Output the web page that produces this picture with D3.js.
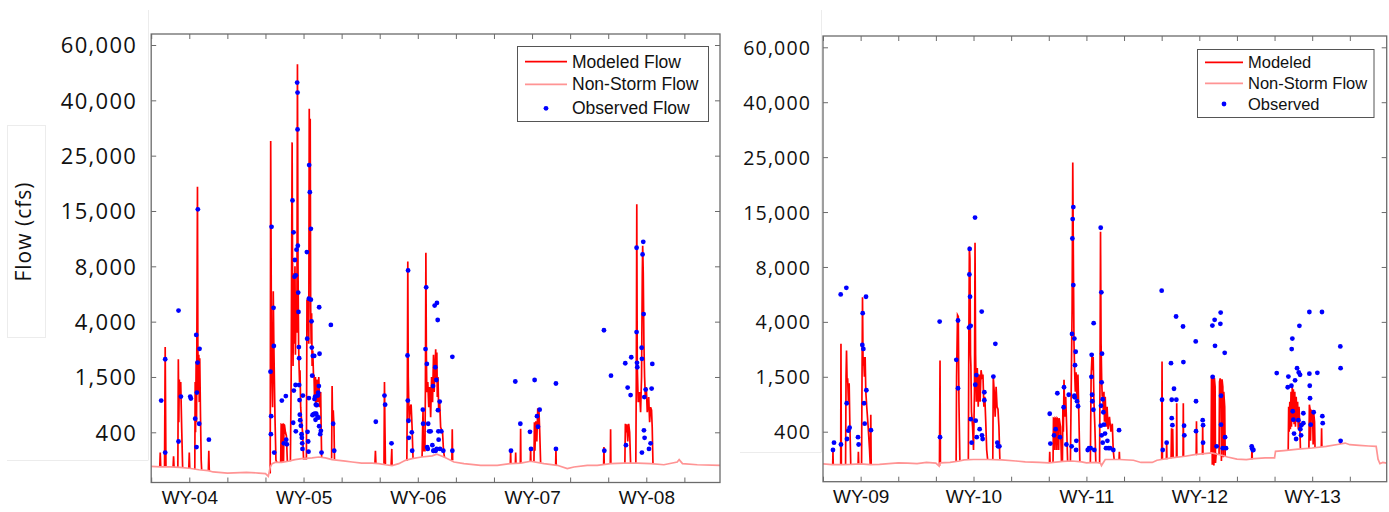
<!DOCTYPE html>
<html><head><meta charset="utf-8">
<script src="https://cdn.jsdelivr.net/npm/d3@7"></script>
<style>html,body{margin:0;padding:0;background:#fff;} svg{display:block;}</style>
</head><body>
<svg id="chart" width="1389" height="512"></svg>
<script>
// ---------------- DATA ----------------
// x = months since Sep 1 of the panel's first year (ticks every 4 months, WY labels at Jan 1)
const yTickValues = [400, 1500, 4000, 8000, 15000, 25000, 40000, 60000];
const yFloorValue = 100;
const tickMonths = [0, 4, 8, 12, 16, 20, 24, 28, 32, 36, 40, 44, 48, 52, 56];
const labelMonths = [4, 16, 28, 40, 52];
const xLabelsLeft = ["WY-04", "WY-05", "WY-06", "WY-07", "WY-08"];
const xLabelsRight = ["WY-09", "WY-10", "WY-11", "WY-12", "WY-13"];
const legendLeft = ["Modeled Flow", "Non-Storm Flow", "Observed Flow"];
const legendRight = ["Modeled", "Non-Storm Flow", "Observed"];

const nonStormLeft = [[0,215],[1.0,212],[2.0,212],[3.0,210],[4.0,205],[5.0,197],[6.0,192],[6.5,185],[8.0,179],[10.0,183],[11.3,179],[12.0,176],[12.3,161],[12.5,212],[12.7,230],[13.0,237],[13.7,237],[14.4,243],[15.1,252],[15.8,257],[16.9,261],[17.6,266],[18.3,261],[19.0,252],[19.7,248],[20.4,244],[21.1,239],[22.1,233],[23.2,233],[23.9,230],[24.6,224],[25.3,219],[26.0,230],[26.7,248],[27.4,257],[28.4,266],[29.5,272],[30.0,281],[30.75,266],[31.45,248],[31.8,239],[32.85,230],[34.6,221],[36.35,221],[37.75,230],[38.8,233],[39.85,243],[41.25,230],[42.65,221],[43.7,203],[44.4,212],[45.8,221],[46.85,221],[48.25,230],[49.65,233],[51.05,233],[52.45,230],[53.85,224],[55.25,239],[55.45,252],[55.8,230],[57.35,224],[59.74,221]];

const modeledLeft = [
[0.9,212],[0.95,290],[1.0,212],null,
[1.40,212],[1.47,2850],[1.55,212],null,
[2.3,212],[2.35,270],[2.4,212],null,
[2.8,212],[2.85,2300],[2.9,600],[2.95,1450],[3.05,1100],[3.1,1400],[3.2,500],[3.3,210],null,
[3.95,205],[4.0,290],[4.05,205],null,
[4.58,200],[4.62,1400],[4.66,400],[4.72,2200],[4.76,600],[4.86,19400],[4.9,3000],[4.95,1200],[5.0,2500],[5.05,1000],[5.1,2350],[5.18,700],[5.25,250],[5.3,197],null,
[6.0,192],[6.05,300],[6.1,190],null,
[12.5,176],[12.55,29000],[12.62,4000],[12.68,1500],[12.75,900],[12.82,6200],[12.88,3000],[12.95,1300],[13.0,700],[13.1,250],[13.2,237],null,
[13.6,237],[13.65,550],[13.7,540],[13.75,240],[13.8,550],[13.85,540],[13.9,240],[13.95,550],[14.0,540],[14.1,400],[14.2,380],[14.3,240],null,
[14.62,243],[14.7,1500],[14.8,28600],[14.86,5000],[14.9,2000],[14.95,7500],[15.0,3000],[15.1,8000],[15.15,2500],[15.22,6000],[15.3,3500],[15.36,53000],[15.42,8000],[15.48,3000],[15.53,2000],[15.58,1400],[15.63,1800],[15.7,900],[15.8,600],[15.9,400],[16.0,257],[16.3,257],
[16.36,5600],[16.42,4500],[16.48,5800],[16.55,3000],[16.6,37700],[16.65,7000],[16.7,35000],[16.75,5000],[16.8,3000],[16.85,4600],[16.9,2000],[16.97,2700],[17.05,1500],[17.1,1600],[17.15,1100],[17.25,1500],[17.3,900],[17.4,1450],[17.5,1000],[17.6,1500],[17.7,900],[17.8,1200],[17.85,500],[17.9,266],null,
[18.95,258],[19.0,1320],[19.05,600],[19.12,840],[19.2,500],[19.25,252],null,
[23.5,233],[23.55,300],[23.6,233],null,
[24.45,230],[24.5,1400],[24.55,500],[24.6,228],null,
[25.2,222],[25.27,310],[25.3,220],null,
[26.85,245],[26.9,1200],[26.95,8600],[27.0,1500],[27.05,1000],[27.1,600],[27.2,900],[27.3,950],[27.4,500],[27.5,257],null,
[28.45,266],[28.5,400],[28.55,840],[28.6,300],[28.75,300],[28.8,1300],[28.85,9700],[28.9,2500],[28.95,1200],[29.05,1400],[29.15,900],[29.25,1300],[29.35,700],[29.45,1500],[29.55,1000],[29.65,2500],[29.72,1200],[29.8,1800],[29.88,2750],[29.95,1400],[30.0,2600],[30.05,1100],[30.12,1500],[30.2,800],[30.3,1000],[30.4,500],[30.5,450],[30.6,400],[30.7,300],[30.8,266],null,
[31.58,248],[31.62,460],[31.66,248],null,
[37.72,230],[37.75,300],[37.78,230],null,
[38.25,231],[38.28,290],[38.31,231],null,
[38.77,233],[38.8,470],[38.83,233],null,
[39.82,243],[39.85,310],[39.88,243],null,
[40.2,240],[40.25,600],[40.3,300],[40.4,620],[40.5,350],[40.6,880],[40.65,500],[40.72,870],[40.8,450],[40.9,235],null,
[42.48,221],[42.51,310],[42.54,221],null,
[47.52,226],[47.55,320],[47.58,226],null,
[48.22,230],[48.25,460],[48.28,230],null,
[49.75,233],[49.8,570],[49.85,400],[49.95,560],[50.05,350],[50.15,570],[50.25,400],[50.35,233],null,
[50.9,233],[50.95,1500],[51.0,16200],[51.05,2000],[51.15,1000],[51.3,1200],[51.4,800],[51.5,1500],[51.58,7500],[51.62,10600],[51.68,7500],[51.75,3000],[51.82,1500],[51.9,1100],[52.0,1300],[52.1,800],[52.25,1100],[52.35,600],[52.45,900],[52.55,840],[52.62,500],[52.7,230]
];

const observedLeft = [[1.05,1030],[1.47,2300],[1.47,290],[2.87,4800],[2.87,350],[3.12,1110],[4.10,1110],[4.17,1070],[4.62,670],[4.73,3400],[4.76,320],[4.80,1190],[4.87,2150],[4.90,15300],[5.04,570],[5.08,2770],[6.06,360],
[12.53,1740],[12.57,390],[12.60,720],[12.64,13000],[12.85,5000],[12.88,2900],[12.92,290],
[13.72,1030],[13.93,340],[14.14,1120],[14.18,360],[14.25,335],
[14.84,16900],[14.91,590],[14.95,12300],[14.98,1230],[15.05,7250],[15.09,8800],[15.16,1340],[15.19,7350],[15.19,420],[15.26,10100],[15.33,46400],[15.37,42800],[15.37,32100],[15.40,10600],[15.44,6100],[15.47,4700],[15.51,2850],[15.54,2350],[15.54,1340],[15.58,1040],[15.61,750],[15.65,640],[15.72,530],[15.79,390],[15.82,370],[15.86,340],[15.89,310],[15.93,1130],
[16.35,9800],[16.38,3230],[16.42,410],[16.49,350],[16.52,295],[16.56,1080],[16.56,5660],[16.59,23300],[16.66,18400],[16.77,5590],[16.77,12740],[16.84,4020],[16.87,2830],[16.91,1560],[16.94,740],[16.98,2450],[17.05,760],[17.12,2450],[17.15,1060],[17.19,770],[17.22,1110],[17.26,650],[17.29,950],[17.33,770],[17.40,940],[17.47,710],[17.50,1130],[17.54,1190],[17.57,690],[17.61,1320],[17.64,520],[17.64,5040],[17.68,2550],[17.75,390],[17.82,430],[17.89,290],
[18.87,3850],[19.11,570],[19.22,300],
[23.59,610],[24.50,1130],[24.57,950],[25.24,340],
[26.92,2470],[26.95,1030],[26.98,7700],[27.02,630],[27.06,370],[27.37,400],[27.41,300],
[28.53,850],[28.56,570],[28.81,2760],[28.88,6480],[28.95,2090],[28.98,320],[29.05,310],[29.09,570],[29.19,420],
[29.35,420],[29.53,330],[29.60,1320],[29.63,300],[29.70,300],[29.77,5160],[29.84,1940],[29.88,300],[29.95,1440],[29.98,310],[30.01,5350],[30.09,4120],[30.12,840],[30.16,420],[30.19,360],[30.30,1010],[30.33,310],[30.47,420],[30.68,300],
[31.63,2410],[31.63,300],
[37.79,300],[38.24,1410],[38.77,570],[39.78,410],[39.89,310],[40.27,1440],[40.52,720],[40.62,510],[40.80,850],[42.51,1370],[42.51,310],
[47.55,3610],[47.59,300],[48.29,1560],[49.79,2120],[49.86,330],[50.04,1290],[50.35,1140],[50.42,2390],[50.98,3530],[50.98,10350],[51.02,2140],[51.05,1940],[51.51,2820],[51.54,2320],[51.61,9500],[51.68,11100],[51.72,4550],[51.75,440],[51.79,1100],[51.82,370],[51.93,1250],[51.54,290],[52.28,310],[52.45,340],[52.56,1270],[52.63,2090]];

const nonStormRight = [[0,224],[1.0,220],[2.0,220],[3.0,221],[4.0,224],[5.0,220],[6.0,222],[7.0,226],[8.0,230],[9.0,228],[10.0,226],[11.0,232],[12.0,228],[12.35,212],[12.45,230],[13.5,232],[14.5,240],[15.0,246],[16.0,248],[17.5,248],[19.0,246],[20.5,240],[21.5,235],[23.0,232],[24.0,230],[25.5,238],[26.5,240],[27.5,235],[28.0,230],[29.0,232],[29.5,228],[29.6,215],[30.0,248],[31.5,248],[33.0,244],[33.8,232],[35.0,232],[35.5,244],[36.0,248],[37.0,257],[38.5,266],[39.5,275],[40.5,280],[41.3,284],[42.5,270],[43.0,262],[44.0,250],[45.0,248],[45.8,253],[47.0,257],[48.0,257],[48.1,293],[49.0,297],[50.5,305],[52.0,311],[53.5,320],[55.0,333],[55.5,338],[56.0,329],[57.0,325],[58.0,322],[58.8,320],[59.0,250],[59.2,225],[59.5,232],[59.92,228]];

const modeledRight = [
[1.03,220],[1.06,290],[1.09,220],null,
[1.88,220],[1.91,3000],[1.95,220],null,
[2.4,220],[2.45,1500],[2.5,2700],[2.56,1400],[2.62,1470],[2.7,1000],[2.78,1370],[2.85,600],[2.95,220],null,
[3.73,221],[3.76,290],[3.8,221],null,
[4.1,224],[4.15,1500],[4.2,5800],[4.26,2000],[4.32,2400],[4.4,1500],[4.48,2400],[4.55,1200],[4.65,900],[4.8,500],[4.95,300],[5.02,220],[5.08,740],[5.12,220],null,
[12.38,212],[12.44,2240],[12.48,230],null,
[14.15,240],[14.2,1500],[14.3,4500],[14.38,4400],[14.45,1000],[14.55,242],null,
[15.45,246],[15.5,3000],[15.56,10600],[15.62,9000],[15.68,2500],[15.72,2000],[15.78,800],[15.9,500],[16.0,300],[16.1,1200],[16.16,11100],[16.22,2500],[16.3,1000],[16.4,1900],[16.5,900],[16.6,1600],[16.7,1000],[16.8,1800],[16.9,1500],[17.0,1600],[17.1,900],[17.2,1100],[17.3,600],[17.4,300],[17.5,248],null,
[18.05,248],[18.1,1500],[18.2,1200],[18.3,700],[18.4,1300],[18.5,900],[18.6,850],[18.7,500],[18.8,247],null,
[24.07,230],[24.1,290],[24.14,230],null,
[24.45,232],[24.5,670],[24.6,660],[24.65,300],[24.7,670],[24.8,650],[24.85,300],[24.9,670],[25.0,650],[25.05,300],[25.1,670],[25.25,500],[25.35,236],null,
[25.45,236],[25.5,900],[25.55,400],[25.62,1440],[25.7,700],[25.8,1100],[25.9,500],[26.0,240],null,
[26.3,240],[26.4,1500],[26.48,5000],[26.55,24000],[26.62,8000],[26.68,3000],[26.75,1740],[26.82,1200],[26.9,1700],[27.0,1000],[27.1,1600],[27.2,700],[27.3,238],null,
[28.42,230],[28.5,1500],[28.6,2500],[28.65,1800],[28.72,2400],[28.8,1000],[28.9,500],[29.0,232],null,
[29.4,230],[29.45,2000],[29.5,12500],[29.56,3000],[29.62,1470],[29.68,1100],[29.74,1170],[29.8,800],[29.86,1200],[29.92,600],[30.0,1100],[30.1,500],[30.2,900],[30.3,450],[30.45,700],[30.6,400],[30.75,560],[30.85,300],[30.95,248],null,
[31.47,248],[31.5,290],[31.53,248],null,
[36.0,248],[36.04,2200],[36.08,248],null,
[36.5,250],[36.53,340],[36.56,250],null,
[37.0,255],[37.05,470],[37.1,260],[37.17,460],[37.22,258],null,
[37.57,258],[37.6,970],[37.63,258],null,
[38.27,263],[38.3,970],[38.33,263],null,
[39.67,272],[39.7,610],[39.73,272],null,
[40.33,276],[40.36,540],[40.39,276],null,
[41.25,284],[41.3,1500],[41.35,1450],[41.38,220],[41.42,1500],[41.5,1400],[41.55,215],[41.6,1480],[41.68,1300],[41.72,230],[41.8,284],null,
[42.1,278],[42.15,1400],[42.22,1470],[42.3,1350],[42.35,240],[42.42,1450],[42.5,1300],[42.55,260],[42.6,1200],[42.7,900],[42.75,265],null,
[45.57,250],[45.6,330],[45.63,250],null,
[49.45,297],[49.5,900],[49.55,400],[49.62,1000],[49.68,450],[49.75,1200],[49.8,500],[49.88,1310],[49.94,600],[50.0,1250],[50.08,550],[50.15,1200],[50.22,500],[50.3,1100],[50.38,600],[50.45,1000],[50.52,450],[50.6,900],[50.7,400],[50.75,305],null,
[51.65,310],[51.7,940],[51.78,850],[51.82,350],[51.9,840],[52.05,700],[52.1,330],[52.15,800],[52.25,600],[52.3,312],null,
[52.97,316],[53.0,470],[53.03,316],null,
[55.0,333],[55.02,360],[55.05,333]
];

const observedRight = [[1.06,300],[1.17,340],[1.88,6000],[1.91,330],[2.48,6480],[2.52,970],[2.55,360],[2.69,420],[2.83,480],[3.72,370],[3.79,330],[4.18,2950],[4.22,4630],[4.29,2770],[4.36,970],[4.43,560],[4.57,5830],[4.61,1230],[5.10,430],
[12.40,4020],[12.44,370],[14.17,2270],[14.35,1270],[14.35,4100],
[15.52,3740],[15.56,7450],[15.59,10300],[15.63,5830],[15.70,3820],[15.70,650],[15.80,340],[16.16,14300],[16.19,1340],[16.23,620],[16.30,1580],[16.34,370],[16.65,450],[16.87,4750],[16.90,380],[16.97,360],[17.15,1190],[17.15,1030],
[18.11,1510],[18.32,3000],[18.53,340],[18.60,320],[18.75,320],
[24.10,760],[24.17,335],[24.56,380],[24.73,450],[24.91,1170],[25.19,370],[25.58,890],[25.62,1290],[25.87,330],[26.12,1140],[26.43,320],[26.47,3450],[26.51,11630],[26.54,14100],[26.61,15900],[26.61,6680],[26.72,3240],[26.79,2030],[26.72,1120],[26.75,1090],[26.86,2640],[26.90,300],[26.93,350],[27.00,1010],[27.11,910],
[28.14,300],[28.28,310],[28.45,310],[28.53,1500],[28.56,2500],[28.60,1140],[28.63,1010],[28.74,840],[28.77,3940],[28.84,300],
[29.52,13000],[29.59,6150],[29.66,2550],[29.62,1390],[29.55,920],[29.73,1050],[29.80,790],[29.52,520],[29.62,380],[29.87,540],[29.73,340],[29.98,390],[30.08,310],[30.23,350],[30.33,310],[30.51,310],[30.86,300],[31.47,430],
[36.00,6270],[36.04,1040],[36.11,300],[36.53,340],[36.99,2120],[37.07,1040],[37.07,670],[37.14,530],[37.31,1260],[37.53,4390],[37.56,1040],[38.27,3790],[38.31,2170],[38.38,520],[38.41,380],[39.62,3110],[39.65,1010],[39.65,410],[40.36,630],[40.40,530],[40.40,340],
[41.39,3830],[41.42,1500],[41.63,4150],[41.67,2910],[41.84,320],[42.24,3910],[42.27,4680],[42.31,1120],[42.31,540],[42.49,310],[42.70,2590],[42.74,370],[42.84,310],
[45.57,320],[45.61,310],[45.68,300],[45.75,300],
[48.23,1670],[49.40,1290],[49.47,1510],[49.79,1320],[49.82,2760],[49.89,3240],[49.93,810],[50.00,640],[50.07,390],[50.18,1430],[50.39,1890],[50.57,1700],[50.64,3820],[50.71,1590],[50.74,450],[50.85,530],[51.06,570],[50.82,380],[50.29,360],[50.53,630],[51.06,770],[51.70,1640],[51.70,4720],[51.74,1320],[51.77,1070],[51.84,540],[52.16,790],[52.55,1680],[53.04,4720],[53.08,710],[53.12,570],[54.99,2880],[55.02,1890],[55.02,350]];

// ---------------- DRAWING ----------------
const svg = d3.select("#chart");
const COL_MOD = "#ff0000", COL_NS = "#ff9494", COL_OBS = "#0000ff", COL_FRAME = "#6b6b6b";

// faint layout box lines from the original composite
const faint = svg.append("g").attr("stroke", "#ececec").attr("fill", "none").attr("stroke-width", 1);
faint.append("line").attr("x1", 148.5).attr("x2", 148.5).attr("y1", 10).attr("y2", 460);
faint.append("line").attr("x1", 7).attr("x2", 148.5).attr("y1", 460.5).attr("y2", 460.5);
faint.append("rect").attr("x", 7.5).attr("y", 125.5).attr("width", 38).attr("height", 212);
faint.append("line").attr("x1", 821.5).attr("x2", 821.5).attr("y1", 10).attr("y2", 452);
faint.append("line").attr("x1", 740).attr("x2", 821.5).attr("y1", 452.5).attr("y2", 452.5);

function drawPanel(p, id) {
  const x = d3.scaleLinear().domain([0, p.span]).range([p.left, p.right]);
  const step = (p.y400 - p.y60000) / (yTickValues.length - 1);
  const y = d3.scaleLinear()
    .domain([yFloorValue, ...yTickValues])
    .range([p.y400 + step, ...yTickValues.map((v, i) => p.y400 - i * step)]);

  const g = svg.append("g");
  g.append("clipPath").attr("id", "clip" + id).append("rect")
    .attr("x", p.left).attr("y", p.top).attr("width", p.right - p.left).attr("height", p.bottom - p.top);
  const plot = g.append("g").attr("clip-path", `url(#clip${id})`);

  const line = d3.line().defined(d => d != null).x(d => x(d[0])).y(d => y(d[1]));

  plot.append("path").datum(p.modeled).attr("d", line)
    .attr("fill", "none").attr("stroke", COL_MOD).attr("stroke-width", 1.7).attr("stroke-linejoin", "miter");
  plot.append("path").datum(p.nonStorm).attr("d", line)
    .attr("fill", "none").attr("stroke", COL_NS).attr("stroke-width", 1.7);
  plot.append("g").selectAll("circle").data(p.observed).join("circle")
    .attr("cx", d => x(d[0])).attr("cy", d => y(d[1])).attr("r", 2.4).attr("fill", COL_OBS);

  // frame
  g.append("rect").attr("x", p.left).attr("y", p.top).attr("width", p.right - p.left).attr("height", p.bottom - p.top)
    .attr("fill", "none").attr("stroke", COL_FRAME).attr("stroke-width", 1.3);

  // axes with inward ticks
  const styleAxis = sel => { sel.select(".domain").remove(); sel.selectAll(".tick line").attr("stroke", COL_FRAME).attr("stroke-width", 1); };

  const yl = g.append("g").attr("transform", `translate(${p.left},0)`)
    .call(d3.axisLeft(y).tickValues(yTickValues).tickSize(-5).tickPadding(p.tickPad).tickFormat(d3.format(",")));
  styleAxis(yl);
  yl.selectAll("text").attr("font-family", "'Open Sans', sans-serif").attr("font-size", p.tickFont)
    .attr("fill", "#111").style("letter-spacing", p.tickLS + "px").attr("dy", "0.36em");

  const yr = g.append("g").attr("transform", `translate(${p.right},0)`)
    .call(d3.axisRight(y).tickValues(yTickValues).tickSize(-5).tickFormat(""));
  styleAxis(yr);

  const xt = g.append("g").attr("transform", `translate(0,${p.top})`)
    .call(d3.axisTop(x).tickValues(tickMonths).tickSize(-5).tickFormat(""));
  styleAxis(xt);

  const xb = g.append("g").attr("transform", `translate(0,${p.bottom})`)
    .call(d3.axisBottom(x).tickValues(tickMonths).tickSize(-5).tickPadding(8)
      .tickFormat(d => { const i = labelMonths.indexOf(d); return i >= 0 ? p.xLabels[i] : ""; }));
  styleAxis(xb);
  xb.selectAll("text").attr("font-family", "'Liberation Sans', Arial, sans-serif").attr("font-size", 19).attr("fill", "#111");

  // legend
  const L = p.legend;
  const lg = g.append("g");
  lg.append("rect").attr("x", L.x).attr("y", L.y).attr("width", L.w).attr("height", L.h)
    .attr("fill", "#fff").attr("stroke", "#555").attr("stroke-width", 1);
  lg.append("line").attr("x1", L.lx1).attr("x2", L.lx2).attr("y1", L.rows[0]).attr("y2", L.rows[0]).attr("stroke", COL_MOD).attr("stroke-width", 1.7);
  lg.append("line").attr("x1", L.lx1).attr("x2", L.lx2).attr("y1", L.rows[1]).attr("y2", L.rows[1]).attr("stroke", COL_NS).attr("stroke-width", 1.7);
  lg.append("circle").attr("cx", (L.lx1 + L.lx2) / 2).attr("cy", L.rows[2]).attr("r", 2.4).attr("fill", COL_OBS);
  lg.selectAll("text.lab").data(L.labels).join("text").attr("class", "lab")
    .attr("x", L.tx).attr("y", (d, i) => L.rows[i]).attr("dy", "0.35em")
    .attr("font-family", "'Liberation Sans', Arial, sans-serif").attr("font-size", L.font).attr("fill", "#111")
    .text(d => d);
}

drawPanel({
  left: 151.2, right: 720, top: 34, bottom: 482.5, y400: 432.3, y60000: 45.0, span: 59.74,
  tickFont: 22, tickLS: 1.3, tickPad: 14, xLabels: xLabelsLeft,
  modeled: modeledLeft, nonStorm: nonStormLeft, observed: observedLeft,
  legend: { x: 517.5, y: 46.5, w: 191, h: 75, lx1: 525, lx2: 567, tx: 572, rows: [61.7, 84.3, 108.3], font: 17.5, labels: legendLeft }
}, "L");

drawPanel({
  left: 823, right: 1386.7, top: 36, bottom: 481.7, y400: 431.7, y60000: 47.3, span: 59.92,
  tickFont: 19.6, tickLS: 1.1, tickPad: 12, xLabels: xLabelsRight,
  modeled: modeledRight, nonStorm: nonStormRight, observed: observedRight,
  legend: { x: 1197.5, y: 49.5, w: 176.5, h: 68, lx1: 1205, lx2: 1243, tx: 1248, rows: [62.3, 83.3, 104], font: 16.5, labels: legendRight }
}, "R");

// y-axis title
svg.append("text").attr("transform", "translate(23.5,231.5) rotate(-90)")
  .attr("text-anchor", "middle").attr("dy", "0.35em")
  .attr("font-family", "'Open Sans', sans-serif").attr("font-size", 21).style("letter-spacing", "1px")
  .attr("fill", "#111").text("Flow (cfs)");
</script>
</body></html>
